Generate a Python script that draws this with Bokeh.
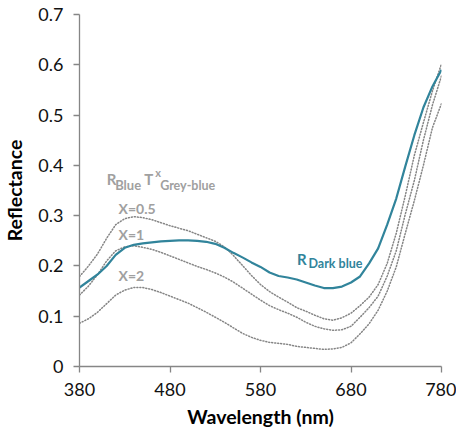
from bokeh.plotting import figure
from bokeh.models import FixedTicker, Label
from bokeh.embed import file_html
from bokeh.resources import INLINE

# ---- data ----
wavelength = [380, 390, 400, 410, 420, 430, 440, 450, 460, 470, 480, 490, 500,
              510, 520, 530, 540, 550, 560, 570, 580, 590, 600, 610, 620, 630,
              640, 650, 660, 670, 680, 690, 700, 710, 720, 730, 740, 750, 760,
              770, 780]

r_dark_blue = [0.157, 0.170, 0.183, 0.200, 0.222, 0.236, 0.242, 0.245, 0.247,
               0.249, 0.250, 0.251, 0.251, 0.250, 0.248, 0.244, 0.236, 0.226,
               0.217, 0.207, 0.198, 0.187, 0.180, 0.177, 0.173, 0.167, 0.161,
               0.156, 0.156, 0.159, 0.167, 0.179, 0.205, 0.235, 0.282, 0.334,
               0.398, 0.460, 0.515, 0.557, 0.590]

r_x05 = [0.179, 0.200, 0.224, 0.255, 0.282, 0.294, 0.298, 0.296, 0.292, 0.286,
         0.280, 0.275, 0.270, 0.263, 0.256, 0.249, 0.238, 0.221, 0.201, 0.181,
         0.163, 0.149, 0.138, 0.128, 0.117, 0.110, 0.102, 0.095, 0.092, 0.097,
         0.106, 0.121, 0.138, 0.163, 0.205, 0.265, 0.340, 0.420, 0.485, 0.548,
         0.602]

r_x1 = [0.142, 0.160, 0.183, 0.210, 0.230, 0.238, 0.240, 0.237, 0.233, 0.227,
        0.220, 0.213, 0.206, 0.199, 0.193, 0.186, 0.178, 0.168, 0.156, 0.144,
        0.132, 0.121, 0.113, 0.106, 0.098, 0.088, 0.080, 0.075, 0.072, 0.073,
        0.080, 0.098, 0.117, 0.140, 0.180, 0.230, 0.303, 0.370, 0.450, 0.520,
        0.578]

r_x2 = [0.086, 0.095, 0.108, 0.125, 0.142, 0.152, 0.157, 0.157, 0.153, 0.147,
        0.140, 0.133, 0.126, 0.117, 0.108, 0.098, 0.088, 0.077, 0.066, 0.058,
        0.052, 0.048, 0.046, 0.044, 0.040, 0.038, 0.036, 0.034, 0.035, 0.038,
        0.047, 0.065, 0.085, 0.112, 0.150, 0.198, 0.265, 0.330, 0.400, 0.475,
        0.523]

x_ticks = [380, 480, 580, 680, 780]
y_ticks = [0, 0.1, 0.2, 0.3, 0.4, 0.5, 0.6, 0.7]
y_tick_labels = ["0", "0.1", "0.2", "0.3", "0.4", "0.5", "0.6", "0.7"]

FONT = "Lato"
TEAL = "#31849B"
GREY_LINE = "#858585"
GREY_TEXT = "#A0A0A0"
AXIS = "#868686"

p = figure(width=456, height=435, output_backend="svg", toolbar_location=None,
           x_range=(380, 780), y_range=(0, 0.7),
           min_border_left=79, min_border_right=15, min_border_top=14,
           min_border_bottom=69)
p.outline_line_color = None
p.grid.visible = False
p.background_fill_color = "white"

# axes
for ax in (p.xaxis[0], p.yaxis[0]):
    ax.axis_line_color = AXIS
    ax.axis_line_width = 1.3
    ax.major_tick_line_color = AXIS
    ax.major_tick_line_width = 1.3
    ax.major_tick_in = 0
    ax.major_tick_out = 6
    ax.minor_tick_line_color = None
    ax.major_label_text_font = FONT
    ax.major_label_text_font_size = "18px"
    ax.major_label_text_color = "#111111"
    ax.major_label_standoff = 10
    ax.axis_label_text_font = FONT
    ax.axis_label_text_font_style = "bold"
    ax.axis_label_text_font_size = "19.5px"
    ax.axis_label_text_color = "#000000"

p.xaxis.ticker = FixedTicker(ticks=x_ticks)
p.yaxis.ticker = FixedTicker(ticks=y_ticks)
p.yaxis.major_label_overrides = {t: s for t, s in zip(y_ticks, y_tick_labels)}
p.xaxis.axis_label = "Wavelength (nm)"
p.yaxis.axis_label = "Reflectance"
p.xaxis.axis_label_standoff = 6
p.yaxis.axis_label_standoff = 9

# series
for ys in (r_x05, r_x1, r_x2):
    p.line(wavelength, ys, line_color=GREY_LINE, line_width=1.5,
           line_dash="1 2", line_cap="round")
p.line(wavelength, r_dark_blue, line_color=TEAL, line_width=2.2)

# annotations
def lab(x, y, t, size, color, xo=0, yo=0, base="alphabetic"):
    p.add_layout(Label(x=x, y=y, text=t, x_offset=xo, y_offset=yo,
                       text_font=FONT, text_font_style="bold",
                       text_font_size=size, text_color=color,
                       text_baseline=base, text_align="left"))

# R_Blue T^x_Grey-blue
lab(410.0, 0.372, "R", "15px", GREY_TEXT)
lab(410.0, 0.372, "Blue", "13px", GREY_TEXT, xo=8.5, yo=-6)
lab(410.0, 0.372, "T", "15px", GREY_TEXT, xo=37.6)
lab(410.0, 0.372, "x", "11px", GREY_TEXT, xo=48.5, yo=7)
lab(410.0, 0.372, "Grey-blue", "12.5px", GREY_TEXT, xo=53.5, yo=-6)

lab(423.1, 0.314, "X=0.5", "14px", GREY_TEXT, base="middle")
lab(423.1, 0.262, "X=1", "14px", GREY_TEXT, base="middle")
lab(423.1, 0.181, "X=2", "14px", GREY_TEXT, base="middle")

# R_Dark blue
lab(620.2, 0.214, "R", "15px", TEAL)
lab(620.2, 0.214, "Dark blue", "12.5px", TEAL, xo=11.6, yo=-4.4)

open("out.html", "w").write(file_html(p, INLINE))
